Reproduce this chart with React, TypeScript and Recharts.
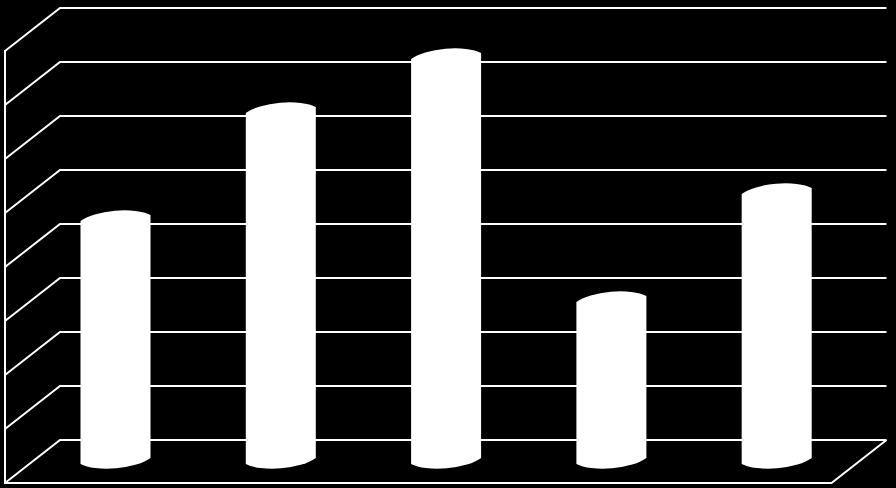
import { BarChart, Bar, XAxis, YAxis, CartesianGrid } from "recharts";

const CATEGORIES = ["A", "B", "C", "D", "E"];
const VALUES = [4.5, 6.5, 7.5, 3, 5];
const TICKS = [0, 1, 2, 3, 4, 5, 6, 7, 8];

const data = CATEGORIES.map((name, i) => ({ name, value: VALUES[i] }));

// fake 3d: half the depth of the floor, in px
const DX = 27.5;
const DY = 21.5;
const STEP = 54;

function WallLine(props: any) {
  const { x1, x2, y1, index } = props;
  const isFloor = Math.abs(y1 - 461.5) < 1;
  const back = y1 - DY;
  const front = y1 + DY;
  return (
    <g key={index} fill="none" stroke="#fff" strokeWidth={2}>
      <polyline points={`${x1 - DX},${front} ${x1 + DX},${back} ${x2 + DX},${back}`} />
      {!isFloor && <line x1={x1 - DX} y1={front - 1} x2={x1 - DX} y2={front + STEP + 1} />}
      {isFloor && (
        <polyline points={`${x2 + DX},${back} ${x2 - DX},${front} ${x1 - DX},${front}`} />
      )}
    </g>
  );
}

function Cylinder(props: any) {
  const { x, y, width, height } = props;
  const rx = 40;
  const ry = 14;
  const tilt = 3;
  const top = y - 0.5;
  const bottom = y + height - 0.5;
  const d = [
    `M${x},${top + tilt}`,
    `A${rx},${ry} -5 0 1 ${x + width},${top - tilt}`,
    `L${x + width},${bottom - tilt}`,
    `A${rx},${ry} -5 0 1 ${x},${bottom + tilt}`,
    "Z",
  ].join(" ");
  return <path d={d} fill="#fff" />;
}

export default function App() {
  return (
    <div style={{ position: "absolute", left: 0, top: 0, width: 896, height: 488, background: "#000" }}>
      <BarChart
        width={896}
        height={488}
        data={data}
        margin={{ top: 29.5, right: 37, bottom: 26.5, left: 32.5 }}
        barSize={70}
      >
        <CartesianGrid vertical={false} horizontal={(p: any) => <WallLine {...p} />} />
        <XAxis dataKey="name" hide />
        <YAxis hide domain={[0, 8]} ticks={TICKS} />
        <Bar dataKey="value" shape={<Cylinder />} isAnimationActive={false} />
      </BarChart>
    </div>
  );
}
